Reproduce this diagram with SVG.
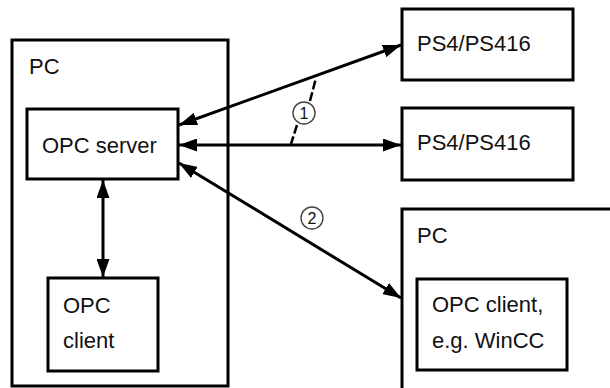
<svg xmlns="http://www.w3.org/2000/svg" width="610" height="388" viewBox="0 0 610 388">
<style>
.box{fill:none;stroke:#000;stroke-width:3}
.t{font-family:"Liberation Sans",Arial,sans-serif;font-size:22px;fill:#111}
.c{font-family:"Liberation Sans",Arial,sans-serif;font-size:16px;fill:#111;text-anchor:middle}
.ln{fill:none;stroke:#000;stroke-width:3;marker-start:url(#ah);marker-end:url(#ah)}
.ld{fill:none;stroke:#000;stroke-width:2.5;stroke-dasharray:9,3}
.circ{fill:#fff;stroke:#444;stroke-width:1.4}
</style>
<defs>
<marker id="ah" viewBox="0 0 18 13" refX="18" refY="6.5" markerWidth="18" markerHeight="13" markerUnits="userSpaceOnUse" orient="auto-start-reverse">
<path d="M0,0 L18,6.5 L0,13 Z" fill="#000"/>
</marker>
</defs>
<rect width="610" height="388" fill="#fff"/>
<g id="pc1">
<rect class="box" x="12" y="40" width="216" height="346"/>
<text class="t" x="29" y="74">PC</text>
</g>
<g id="opc-server">
<rect class="box" x="27" y="109" width="151" height="70"/>
<text class="t" x="42" y="153">OPC server</text>
</g>
<g id="opc-client">
<rect class="box" x="48" y="278" width="110" height="93"/>
<text class="t" x="63" y="313">OPC</text>
<text class="t" x="63" y="348">client</text>
</g>
<g id="ps4-1">
<rect class="box" x="402" y="9" width="171" height="71"/>
<text class="t" x="417" y="51">PS4/PS416</text>
</g>
<g id="ps4-2">
<rect class="box" x="402" y="108" width="171" height="72"/>
<text class="t" x="417" y="150">PS4/PS416</text>
</g>
<g id="pc2">
<rect class="box" x="402" y="209" width="220" height="200"/>
<text class="t" x="417" y="243">PC</text>
</g>
<g id="opc-client-wincc">
<rect class="box" x="417" y="279" width="150" height="91"/>
<text class="t" x="432" y="312">OPC client,</text>
<text class="t" x="432" y="348">e.g. WinCC</text>
</g>
<g id="connectors">
<line class="ln" x1="179" y1="125" x2="401" y2="45"/>
<line class="ln" x1="179" y1="145" x2="401" y2="145"/>
<line class="ln" x1="179" y1="163" x2="401" y2="298"/>
<line class="ln" x1="103" y1="180" x2="103" y2="277"/>
<line class="ld" x1="310" y1="101" x2="316" y2="78"/>
<line class="ld" x1="297" y1="125" x2="291" y2="144"/>
</g>
<g id="label1">
<circle class="circ" cx="304" cy="113" r="11"/>
<text class="c" x="304" y="119">1</text>
</g>
<g id="label2">
<circle class="circ" cx="312" cy="218" r="11"/>
<text class="c" x="312" y="224">2</text>
</g>
</svg>
